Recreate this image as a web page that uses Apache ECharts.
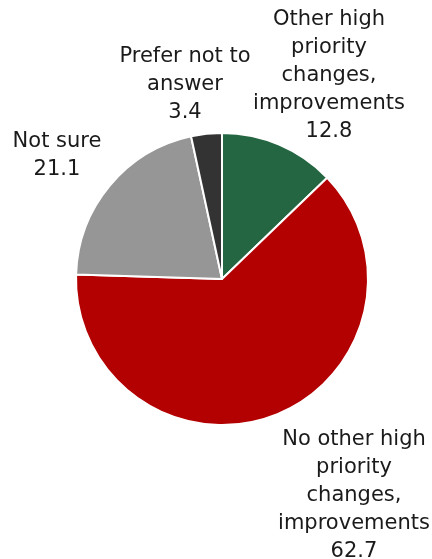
<!DOCTYPE html>
<html>
<head>
<meta charset="utf-8">
<script src="https://cdn.jsdelivr.net/npm/echarts@6/dist/echarts.min.js"></script>
<style>
html,body{margin:0;padding:0;background:#fff;}
#main{width:432px;height:559px;}
</style>
</head>
<body>
<div id="main"></div>
<script>
var categories = [
  "Other high\npriority\nchanges,\nimprovements",
  "No other high\npriority\nchanges,\nimprovements",
  "Not sure",
  "Prefer not to\nanswer"
];
var values = [12.8, 62.7, 21.1, 3.4];
var colors = ["#236641", "#B30000", "#969696", "#333333"];
var labelCenters = [[329, 76], [354, 496], [57, 156], [185, 85]];

var chart = echarts.init(document.getElementById('main'), null, {renderer: 'canvas'});
var data = categories.map(function (c, i) {
  return {
    name: c,
    value: values[i],
    itemStyle: {color: colors[i]}
  };
});
chart.setOption({
  animation: false,
  backgroundColor: '#ffffff',
  series: [{
    type: 'pie',
    center: [222, 279],
    radius: 146,
    startAngle: 90,
    clockwise: true,
    selectedMode: false,
    itemStyle: {borderColor: '#ffffff', borderWidth: 2},
    emphasis: {disabled: true},
    label: {
      show: true,
      position: 'outside',
      formatter: '{b}\n{c}',
      fontFamily: 'DejaVu Sans',
      fontSize: 21,
      lineHeight: 28,
      color: '#1a1a1a',
      align: 'center',
      overflow: 'none',
      width: 300
    },
    labelLine: {show: false},
    labelLayout: function (p) {
      var c = labelCenters[p.dataIndex];
      return {x: c[0], y: c[1], align: 'center', verticalAlign: 'middle'};
    },
    data: data
  }]
});
</script>
</body>
</html>
